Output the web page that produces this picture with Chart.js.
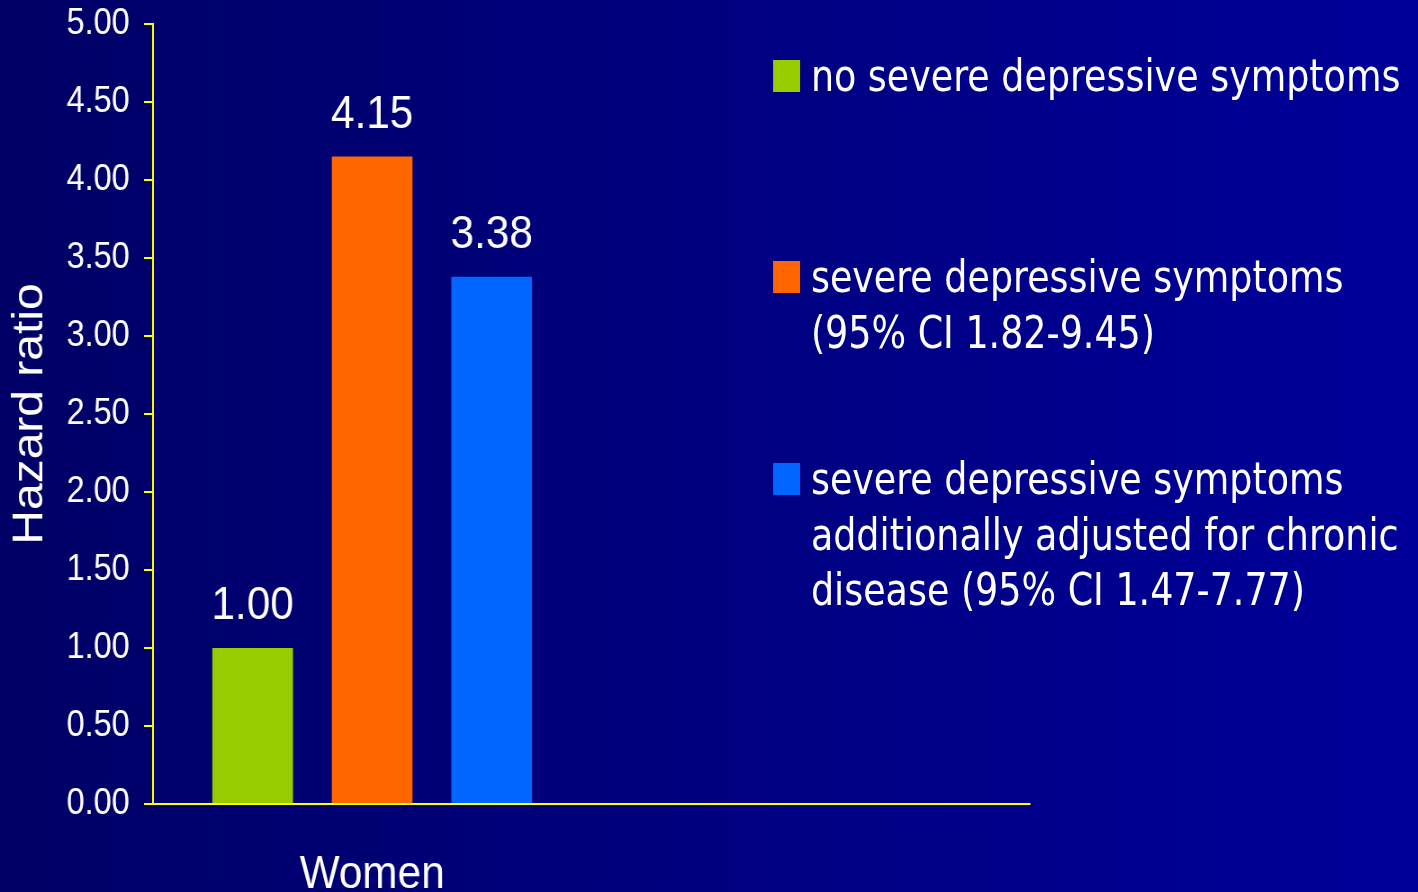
<!DOCTYPE html>
<html>
<head>
<meta charset="utf-8">
<script src="https://cdn.jsdelivr.net/npm/chart.js@4.4.1/dist/chart.umd.min.js"></script>
<style>
    html, body {
        margin: 0;
        padding: 0;
        width: 1418px;
        height: 892px;
        overflow: hidden;
        background: linear-gradient(to right, #000066, #000099);
    }
    /* the slide looks squeezed sideways, so draw wider and squeeze */
    .stage {
        position: absolute;
        left: 0;
        top: 0;
        width: 1576px;
        height: 892px;
        transform: scaleX(0.9);
        transform-origin: 0 0;
    }
    #chart { position: absolute; left: 0; top: 0; }
    .legend-item {
        position: absolute;
        left: 901px;
        color: #ffffff;
        font-family: "DejaVu Sans Condensed", "DejaVu Sans", sans-serif;
        font-stretch: condensed;
        font-size: 45px;
        line-height: 55.5px;
        white-space: nowrap;
    }
    .legend-box {
        position: absolute;
        left: -42px;
        width: 30px;
        height: 32px;
    }
</style>
</head>
<body>
<div class="stage">
    <canvas id="chart" width="1576" height="892"></canvas>
    <div id="legend"></div>
</div>

<script>
// --- DATA ---
const categories = ["Women", ""];
const seriesNames = [
    ["no severe depressive symptoms"],
    ["severe depressive symptoms", "(95% CI 1.82-9.45)"],
    ["severe depressive symptoms", "additionally adjusted for chronic", "disease (95% CI 1.47-7.77)"]
];
const noSevere = [1.00, null];
const severe = [4.15, null];
const severeAdjusted = [3.38, null];
const yTicks = [0, 0.5, 1, 1.5, 2, 2.5, 3, 3.5, 4, 4.5, 5];

const colors = ['#99cc00', '#ff6600', '#0066ff'];
const legendBaselines = [92, 293, 495];

// --- VALUE LABELS ABOVE BARS ---
const barValueLabels = {
    id: 'barValueLabels',
    afterDatasetsDraw(chart) {
        const ctx = chart.ctx;
        ctx.save();
        ctx.font = '47px "Liberation Sans", Arial, sans-serif';
        ctx.fillStyle = '#ffffff';
        ctx.textAlign = 'center';
        ctx.textBaseline = 'alphabetic';
        chart.data.datasets.forEach((ds, i) => {
            chart.getDatasetMeta(i).data.forEach((bar, j) => {
                const v = ds.data[j];
                if (v === null) return;
                ctx.fillText(v.toFixed(2), bar.x, bar.y - 29);
            });
        });
        ctx.restore();
    }
};

// --- CHART ---
const yellow = '#ffff00';
const axisFont = { family: '"Liberation Sans", Arial, sans-serif' };

new Chart(document.getElementById('chart').getContext('2d'), {
    type: 'bar',
    data: {
        labels: categories,
        datasets: [
            { label: seriesNames[0].join(' '), data: noSevere, backgroundColor: colors[0] },
            { label: seriesNames[1].join(' '), data: severe, backgroundColor: colors[1] },
            { label: seriesNames[2].join(' '), data: severeAdjusted, backgroundColor: colors[2] }
        ]
    },
    options: {
        responsive: false,
        animation: false,
        devicePixelRatio: 1,
        categoryPercentage: 0.818,
        barPercentage: 0.675,
        layout: { padding: { top: 24, right: 432, left: 0, bottom: 0 } },
        plugins: {
            legend: { display: false },
            tooltip: { enabled: false }
        },
        scales: {
            x: {
                grid: { display: true, drawOnChartArea: false, drawTicks: false },
                border: { display: true, color: yellow, width: 2 },
                ticks: {
                    color: '#ffffff',
                    padding: 43,
                    font: { ...axisFont, size: 47 }
                },
                afterFit(scale) { scale.height = 88; }
            },
            y: {
                min: 0,
                max: 5,
                afterBuildTicks(scale) { scale.ticks = yTicks.map(v => ({ value: v })); },
                grid: {
                    display: true,
                    drawOnChartArea: false,
                    drawTicks: true,
                    tickLength: 10,
                    color: yellow,
                    lineWidth: 2
                },
                border: { display: true, color: yellow, width: 2 },
                ticks: {
                    color: '#ffffff',
                    padding: 16,
                    font: { ...axisFont, size: 36 },
                    callback: v => Number(v).toFixed(2)
                },
                title: {
                    display: true,
                    text: 'Hazard ratio',
                    color: '#ffffff',
                    padding: { top: 5, bottom: 0 },
                    font: { ...axisFont, size: 48 }
                },
                afterFit(scale) {
                    scale.width = 170;
                    scale.paddingTop = 0;
                    scale.paddingBottom = 0;
                }
            }
        }
    },
    plugins: [barValueLabels]
});

// --- LEGEND (HTML, wraps like the slide) ---
const legend = document.getElementById('legend');
seriesNames.forEach((lines, i) => {
    const item = document.createElement('div');
    item.className = 'legend-item';
    item.style.top = (legendBaselines[i] - 43.6) + 'px';
    const box = document.createElement('span');
    box.className = 'legend-box';
    box.style.background = colors[i];
    box.style.top = '11.6px';
    item.appendChild(box);
    lines.forEach((line, k) => {
        if (k > 0) item.appendChild(document.createElement('br'));
        item.appendChild(document.createTextNode(line));
    });
    legend.appendChild(item);
});
</script>
</body>
</html>
